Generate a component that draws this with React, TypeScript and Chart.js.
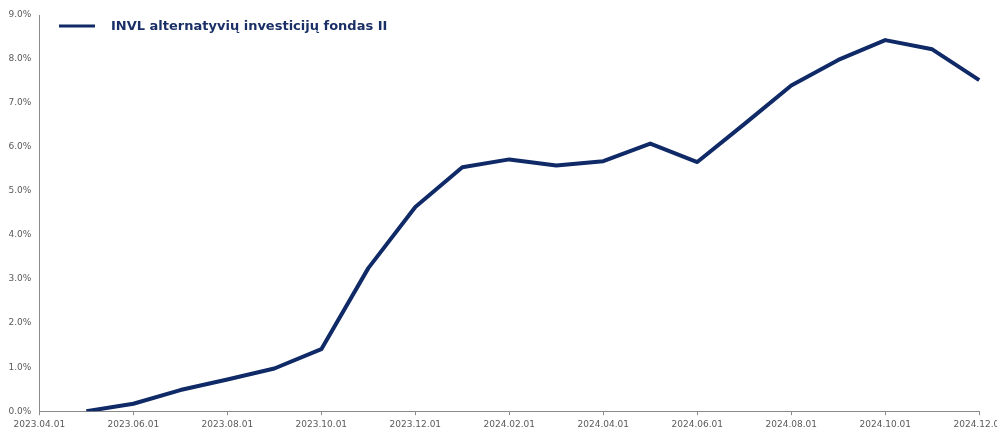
import React, { useEffect, useRef } from "react";
import { Chart, registerables } from "chart.js";

Chart.register(...registerables);

const categories: string[] = [
  "2023.04.01", "2023.05.01", "2023.06.01", "2023.07.01", "2023.08.01", "2023.09.01",
  "2023.10.01", "2023.11.01", "2023.12.01", "2024.01.01", "2024.02.01", "2024.03.01",
  "2024.04.01", "2024.05.01", "2024.06.01", "2024.07.01", "2024.08.01", "2024.09.01",
  "2024.10.01", "2024.11.01", "2024.12.01",
];

const fundValues: (number | null)[] = [
  null, 0.0, 0.17, 0.48, 0.72, 0.97,
  1.41, 3.25, 4.64, 5.54, 5.72, 5.58,
  5.68, 6.08, 5.66, 6.52, 7.40, 7.98,
  8.43, 8.22, 7.52,
];

const seriesLabel = "INVL alternatyvių investicijų fondas II";
const NAVY = "#0f2a66";
const GREY_TEXT = "#5a5a5a";
const AXIS = "#8a8a8a";

const legendPlugin = {
  id: "customLegend",
  afterDraw(chart: any) {
    const ctx = chart.ctx;
    const ds = chart.data.datasets[0];
    ctx.save();
    ctx.strokeStyle = ds.borderColor;
    ctx.lineWidth = 3;
    ctx.beginPath();
    ctx.moveTo(59, 26);
    ctx.lineTo(95, 26);
    ctx.stroke();
    ctx.fillStyle = "#1a2f66";
    ctx.font = "bold 13px 'DejaVu Sans'";
    ctx.textBaseline = "middle";
    ctx.textAlign = "left";
    ctx.fillText(ds.label, 111, 27);
    ctx.restore();
  },
};

export default function App() {
  const ref = useRef<HTMLCanvasElement | null>(null);

  useEffect(() => {
    if (!ref.current) return;
    const chart = new Chart(ref.current, {
      type: "line",
      data: {
        labels: categories,
        datasets: [
          {
            label: seriesLabel,
            data: fundValues,
            borderColor: NAVY,
            backgroundColor: NAVY,
            borderWidth: 4,
            pointRadius: 0,
            tension: 0,
            borderJoinStyle: "round",
            borderCapStyle: "butt",
          },
        ],
      },
      options: {
        responsive: false,
        animation: false,
        layout: { padding: { top: 15, left: 0.5, right: 0, bottom: -3 } },
        plugins: {
          legend: { display: false },
          tooltip: { enabled: false },
        },
        scales: {
          x: {
            type: "category",
            offset: false,
            border: { display: true, color: AXIS, width: 1 },
            grid: {
              display: true,
              drawOnChartArea: false,
              drawTicks: true,
              tickLength: 4,
              color: (c: any) => (c.index % 2 === 0 ? AXIS : "rgba(0,0,0,0)"),
            },
            ticks: {
              autoSkip: false,
              maxRotation: 0,
              minRotation: 0,
              padding: 4,
              color: GREY_TEXT,
              font: { family: "'DejaVu Sans'", size: 9 },
              callback: function (this: any, _v: any, i: number) {
                return i % 2 === 0 ? categories[i] : "";
              },
            },
          },
          y: {
            min: 0,
            max: 9,
            border: { display: true, color: AXIS, width: 1 },
            grid: { display: false, drawTicks: false },
            ticks: {
              stepSize: 1,
              padding: 8,
              color: GREY_TEXT,
              font: { family: "'DejaVu Sans'", size: 9 },
              callback: (v: any) => Number(v).toFixed(1) + "%",
            },
          },
        },
      },
      plugins: [legendPlugin],
    });
    return () => chart.destroy();
  }, []);

  return (
    <div
      style={{
        position: "fixed",
        left: 0,
        top: 0,
        width: 997,
        height: 431,
        overflow: "hidden",
        background: "#fff",
      }}
    >
      <canvas ref={ref} width={1009} height={431} style={{ width: 1009, height: 431 }} />
    </div>
  );
}
